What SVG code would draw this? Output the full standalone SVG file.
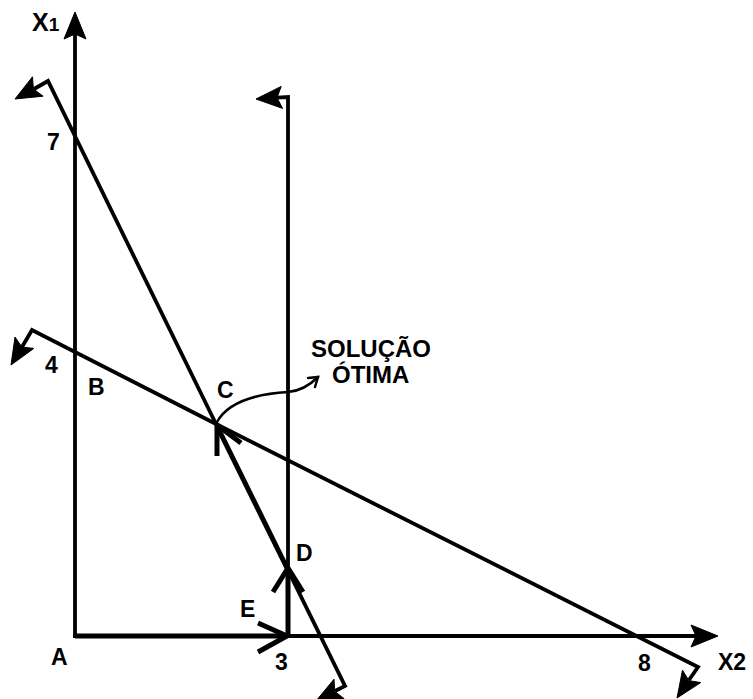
<svg xmlns="http://www.w3.org/2000/svg" width="753" height="699" viewBox="0 0 753 699">
<style>
.ln{fill:none;stroke:#000;stroke-width:3.8;stroke-linejoin:miter;stroke-linecap:butt}
.bold{fill:none;stroke:#000;stroke-width:5;stroke-linecap:butt}
.thin{fill:none;stroke:#000;stroke-width:2.5;stroke-linecap:round}
.head{fill:#000;stroke:#000;stroke-width:1;stroke-linejoin:miter}
text{font-family:"Liberation Sans",Arial,sans-serif;font-weight:bold;font-size:23px;fill:#000}
text.big{font-size:24px}
text.ax{font-size:25px}
tspan.sub{font-size:19px}
</style>
<rect width="753" height="699" fill="#fff"/>
<g id="connectors">
<path id="axis-x1" class="ln" d="M75,638 L75,34" stroke-width="4"/>
<polygon class="head" points="75,12 86,39 75,34 64,39"/>
<path id="axis-x2" class="ln" d="M73,636 L696,636" stroke-width="4"/>
<polygon class="head" points="718,636 691,625 696,636 691,647"/>
<path class="ln" d="M216,424 L48,81 L34,89"/>
<polygon class="head" points="15,99 43.1,96.2 33.4,88.9 32.5,76.8"/>
<path class="ln" d="M216,424 L345,686 L335,691"/>
<polygon class="head" points="316,701 344.2,698.8 334.7,691.3 334,679.2"/>
<path class="ln" d="M216,424 L32,330 L22,347"/>
<polygon class="head" points="11,365 33.8,348.4 21.8,347 15,337"/>
<path class="ln" d="M216,424 L698,667 L689,680"/>
<polygon class="head" points="677,698 700.7,682.6 688.8,680.6 682.5,670.2"/>
<path class="ln" d="M288,636 L288,97 L277,97.7"/>
<polygon class="head" points="256,99 282.6,108.4 277,97.7 281.2,86.4"/>
<path class="bold" d="M75,636 L286,636"/>
<polyline class="bold" points="258,623 287,636 258,652"/>
<path class="bold" d="M288,636 L288,570"/>
<polyline class="bold" points="273,592 288,568 303,592"/>
<path class="bold" d="M288,570 L217,426"/>
<polyline class="bold" points="217,456 217,425 241,443"/>
<path class="thin" d="M217,422 C228,402 255,394 288,392 C300,391 310,385 318,377"/>
<polyline class="thin" points="308,378 318,377 315,387"/>
</g>
<g id="label-x1"><text class="ax" x="32" y="31">X<tspan class="sub">1</tspan></text></g>
<g id="label-7"><text x="47" y="150">7</text></g>
<g id="label-4"><text x="45" y="373">4</text></g>
<g id="node-B"><text x="88" y="395">B</text></g>
<g id="node-C"><text x="217" y="398">C</text></g>
<g id="label-solucao"><text class="big" x="311" y="357">SOLUÇÃO</text><text class="big" x="332" y="383">ÓTIMA</text></g>
<g id="node-D"><text x="296" y="561">D</text></g>
<g id="node-E"><text x="240" y="617">E</text></g>
<g id="node-A"><text x="51" y="665">A</text></g>
<g id="label-3"><text x="275" y="670">3</text></g>
<g id="label-8"><text x="638" y="671">8</text></g>
<g id="label-x2"><text x="718" y="670">X2</text></g>
</svg>
